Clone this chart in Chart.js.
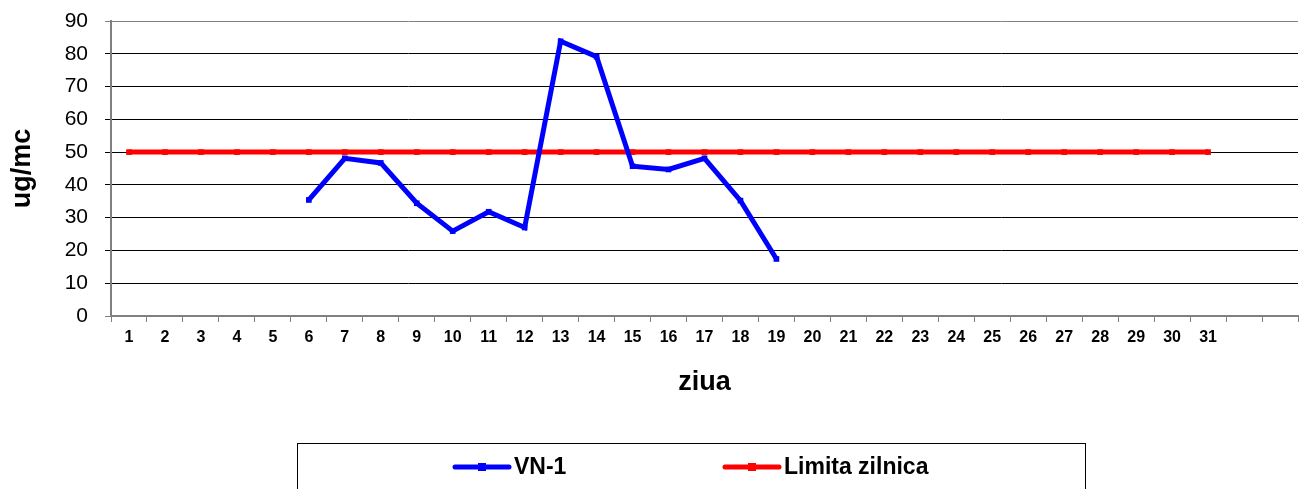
<!DOCTYPE html>
<html>
<head>
<meta charset="utf-8">
<script src="https://cdn.jsdelivr.net/npm/chart.js@4.4.1/dist/chart.umd.min.js"></script>
<style>
  html, body { margin: 0; padding: 0; background: #fff; }
  #wrap { width: 1302px; height: 489px; position: relative; }
</style>
</head>
<body>
<div id="wrap"><canvas id="c" width="1302" height="489"></canvas></div>
<script>
// ---- data ----
const days = ['1','2','3','4','5','6','7','8','9','10','11','12','13','14','15','16','17','18','19','20','21','22','23','24','25','26','27','28','29','30','31','',''];
const vn1 = [null,null,null,null,null,35.4,48.1,46.7,34.4,25.9,31.8,27.0,83.8,79.1,45.7,44.7,48.1,35.2,17.4,null,null,null,null,null,null,null,null,null,null,null,null,null,null];
const limita = [50,50,50,50,50,50,50,50,50,50,50,50,50,50,50,50,50,50,50,50,50,50,50,50,50,50,50,50,50,50,50,null,null];
const seriesNames = ['VN-1', 'Limita zilnica'];
const yTitle = 'ug/mc';
const xTitle = 'ziua';

const FONT = '"Liberation Sans", Arial, sans-serif';

const legendBox = {
  id: 'legendBox',
  afterDraw(chart) {
    const ctx = chart.ctx;
    ctx.save();
    ctx.strokeStyle = '#000';
    ctx.lineWidth = 1;
    ctx.strokeRect(297.5, 443.5, 788, 60);
    const items = [{x: 455}, {x: 725}];
    chart.data.datasets.forEach((ds, i) => {
      const x0 = items[i].x, y = 467;
      ctx.strokeStyle = ds.borderColor;
      ctx.lineWidth = 5;
      ctx.lineCap = 'round';
      ctx.beginPath(); ctx.moveTo(x0, y); ctx.lineTo(x0 + 54, y); ctx.stroke();
      ctx.fillStyle = ds.borderColor;
      ctx.fillRect(x0 + 27 - 4, y - 4, 8, 8);
      ctx.fillStyle = '#000';
      ctx.font = 'bold 23px ' + FONT;
      ctx.textBaseline = 'middle';
      ctx.textAlign = 'left';
      ctx.fillText(ds.label, x0 + 59, y + 1);
    });
    ctx.restore();
  }
};

new Chart(document.getElementById('c'), {
  type: 'line',
  data: {
    labels: days,
    datasets: [
      { label: seriesNames[0], data: vn1, borderColor: '#0000FF', backgroundColor: '#0000FF',
        borderWidth: 5, pointStyle: 'rect', pointRadius: 4, pointBorderWidth: 0, spanGaps: false, tension: 0 },
      { label: seriesNames[1], data: limita, borderColor: '#FF0000', backgroundColor: '#FF0000',
        borderWidth: 5, pointStyle: 'rect', pointRadius: 4, pointBorderWidth: 0, spanGaps: false, tension: 0 }
    ]
  },
  options: {
    responsive: false,
    animation: false,
    events: [],
    layout: { padding: { top: 21, right: -4, left: 0, bottom: 0 } },
    plugins: { legend: { display: false }, tooltip: { enabled: false } },
    scales: {
      x: {
        offset: true,
        grid: { offset: true, drawOnChartArea: false, drawTicks: true, tickLength: 6, color: '#808080', lineWidth: 1 },
        border: { display: true, color: '#808080', width: 2 },
        ticks: { color: '#000', font: { family: FONT, size: 16, weight: 'bold' }, padding: 6, maxRotation: 0, autoSkip: false },
        title: { display: true, text: xTitle, color: '#000', font: { family: FONT, size: 27, weight: 'bold' }, padding: { top: 0, bottom: 90 } },
        afterFit(s) { s.height = 489 - 316; s.paddingLeft = 0; s.paddingRight = 0; }
      },
      y: {
        min: 0, max: 90,
        ticks: { stepSize: 10, color: '#000', font: { family: FONT, size: 21 }, padding: 17 },
        grid: { drawTicks: true, tickLength: 6,
          color: (c) => (c.tick && (c.tick.value === 90 || c.tick.value === 0)) ? '#808080' : '#000',
          lineWidth: 1 },
        border: { display: true, color: '#808080', width: 2 },
        title: { display: true, text: yTitle, color: '#000', font: { family: FONT, size: 27, weight: 'bold' }, padding: { top: 6, bottom: 0 } },
        afterFit(s) { s.width = 111; s.paddingTop = 0; s.paddingBottom = 0; }
      }
    }
  },
  plugins: [legendBox]
});
</script>
</body>
</html>
